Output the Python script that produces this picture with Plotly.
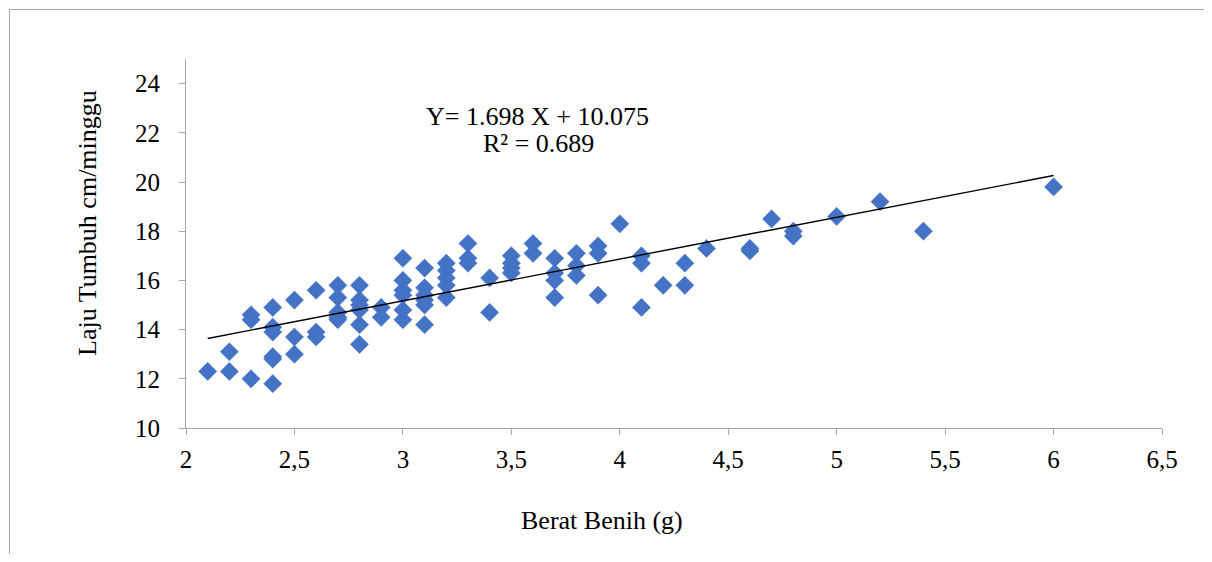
import plotly.graph_objects as go

berat = [2.1,
         2.2, 2.2,
         2.3, 2.3, 2.3,
         2.4, 2.4, 2.4, 2.4, 2.4, 2.4,
         2.5, 2.5, 2.5,
         2.6, 2.6, 2.6,
         2.7, 2.7, 2.7, 2.7, 2.7,
         2.8, 2.8, 2.8, 2.8, 2.8, 2.8,
         2.9, 2.9,
         3.0, 3.0, 3.0, 3.0, 3.0, 3.0,
         3.1, 3.1, 3.1, 3.1, 3.1, 3.1,
         3.2, 3.2, 3.2, 3.2, 3.2,
         3.3, 3.3, 3.3,
         3.4, 3.4,
         3.5, 3.5, 3.5, 3.5,
         3.6, 3.6,
         3.7, 3.7, 3.7, 3.7,
         3.8, 3.8, 3.8,
         3.9, 3.9, 3.9,
         4.0,
         4.1, 4.1, 4.1,
         4.2,
         4.3, 4.3,
         4.4,
         4.6, 4.6,
         4.7,
         4.8, 4.8,
         5.0,
         5.2,
         5.4,
         6.0]
laju = [12.3,
        13.1, 12.3,
        14.6, 14.4, 12.0,
        14.9, 14.1, 13.9, 12.9, 12.8, 11.8,
        15.2, 13.7, 13.0,
        15.6, 13.9, 13.7,
        15.8, 15.3, 14.7, 14.5, 14.4,
        15.8, 15.2, 15.0, 14.8, 14.2, 13.4,
        14.9, 14.5,
        16.9, 16.0, 15.6, 15.4, 14.8, 14.4,
        16.5, 15.7, 15.4, 15.2, 15.0, 14.2,
        16.7, 16.4, 16.1, 15.8, 15.3,
        17.5, 16.9, 16.7,
        16.1, 14.7,
        17.0, 16.7, 16.5, 16.3,
        17.5, 17.1,
        16.9, 16.3, 16.0, 15.3,
        17.1, 16.6, 16.2,
        17.4, 17.1, 15.4,
        18.3,
        17.0, 16.7, 14.9,
        15.8,
        16.7, 15.8,
        17.3,
        17.3, 17.2,
        18.5,
        18.0, 17.8,
        18.6,
        19.2,
        18.0,
        19.8]

slope = 1.698
intercept = 10.075
r2 = 0.689

x_ticks = [2, 2.5, 3, 3.5, 4, 4.5, 5, 5.5, 6, 6.5]
x_tick_labels = ["2", "2,5", "3", "3,5", "4", "4,5", "5", "5,5", "6", "6,5"]
y_ticks = [10, 12, 14, 16, 18, 20, 22, 24]

FONT = "Liberation Serif, Times New Roman, serif"
AXIS_COLOR = "#A6A6A6"

# page has an 8px body margin; work in page pixels and convert
OFF = 8
W, H = 1212 - 2 * OFF, 562 - 2 * OFF
PL, PR, PT, PB = 186, 1162, 59, 428  # plot area in page pixels

trend_x = [min(berat), max(berat)]
trend_y = [slope * v + intercept for v in trend_x]

fig = go.Figure()
fig.add_trace(go.Scatter(
    x=berat, y=laju, mode="markers",
    marker=dict(symbol="diamond", size=14, color="#4472C4",
                line=dict(color="#4472C4", width=0.5)),
    showlegend=False, hoverinfo="x+y"))
fig.add_trace(go.Scatter(
    x=trend_x, y=trend_y, mode="lines",
    line=dict(color="black", width=1.4),
    showlegend=False, hoverinfo="skip"))

fig.update_layout(
    width=W, height=H,
    margin=dict(l=PL - OFF, r=W - (PR - OFF), t=PT - OFF, b=H - (PB - OFF)),
    paper_bgcolor="white", plot_bgcolor="white",
    font=dict(family=FONT, size=25, color="black"),
    xaxis=dict(range=[2, 6.5], tickvals=x_ticks, ticktext=x_tick_labels,
               showgrid=False, zeroline=False, showline=True,
               linecolor=AXIS_COLOR, linewidth=1,
               ticks="outside", ticklen=6, tickcolor=AXIS_COLOR, tickwidth=1,
               ticklabelstandoff=3,
               tickfont=dict(family=FONT, size=25, color="black")),
    yaxis=dict(range=[10, 25], tickvals=y_ticks,
               showgrid=False, zeroline=False, showline=True,
               linecolor=AXIS_COLOR, linewidth=1,
               ticks="outside", ticklen=6, tickcolor=AXIS_COLOR, tickwidth=1,
               ticklabelstandoff=14,
               tickfont=dict(family=FONT, size=25, color="black")),
)


def px_to_paper_x(px):
    return (px - PL) / (PR - PL)


def px_to_paper_y(py):
    return (PB - py) / (PB - PT)


fig.add_annotation(text="Y= %.3f X + %.3f" % (slope, intercept),
                   x=px_to_paper_x(537), y=px_to_paper_y(117),
                   xref="paper", yref="paper", showarrow=False,
                   xanchor="center", yanchor="middle",
                   font=dict(family=FONT, size=26))
fig.add_annotation(text="R² = %.3f" % r2,
                   x=px_to_paper_x(538), y=px_to_paper_y(143),
                   xref="paper", yref="paper", showarrow=False,
                   xanchor="center", yanchor="middle",
                   font=dict(family=FONT, size=26))
fig.add_annotation(text="Laju Tumbuh cm/minggu",
                   x=px_to_paper_x(87), y=px_to_paper_y(223),
                   xref="paper", yref="paper", showarrow=False,
                   textangle=-90, xanchor="center", yanchor="middle",
                   font=dict(family=FONT, size=26))
fig.add_annotation(text="Berat Benih (g)",
                   x=px_to_paper_x(602), y=px_to_paper_y(520),
                   xref="paper", yref="paper", showarrow=False,
                   xanchor="center", yanchor="middle",
                   font=dict(family=FONT, size=26))

# outer chart border: only the top and left edges are visible in the frame
right_edge = px_to_paper_x(W + OFF)
bottom_edge = px_to_paper_y(H + OFF)
fig.add_shape(type="line", xref="paper", yref="paper",
              x0=px_to_paper_x(9.5), x1=right_edge,
              y0=px_to_paper_y(9.5), y1=px_to_paper_y(9.5),
              line=dict(color="#A6A6A6", width=1), layer="below")
fig.add_shape(type="line", xref="paper", yref="paper",
              x0=px_to_paper_x(9.5), x1=px_to_paper_x(9.5),
              y0=px_to_paper_y(9.5), y1=bottom_edge,
              line=dict(color="#A6A6A6", width=1), layer="below")

fig.write_html("out.html")
